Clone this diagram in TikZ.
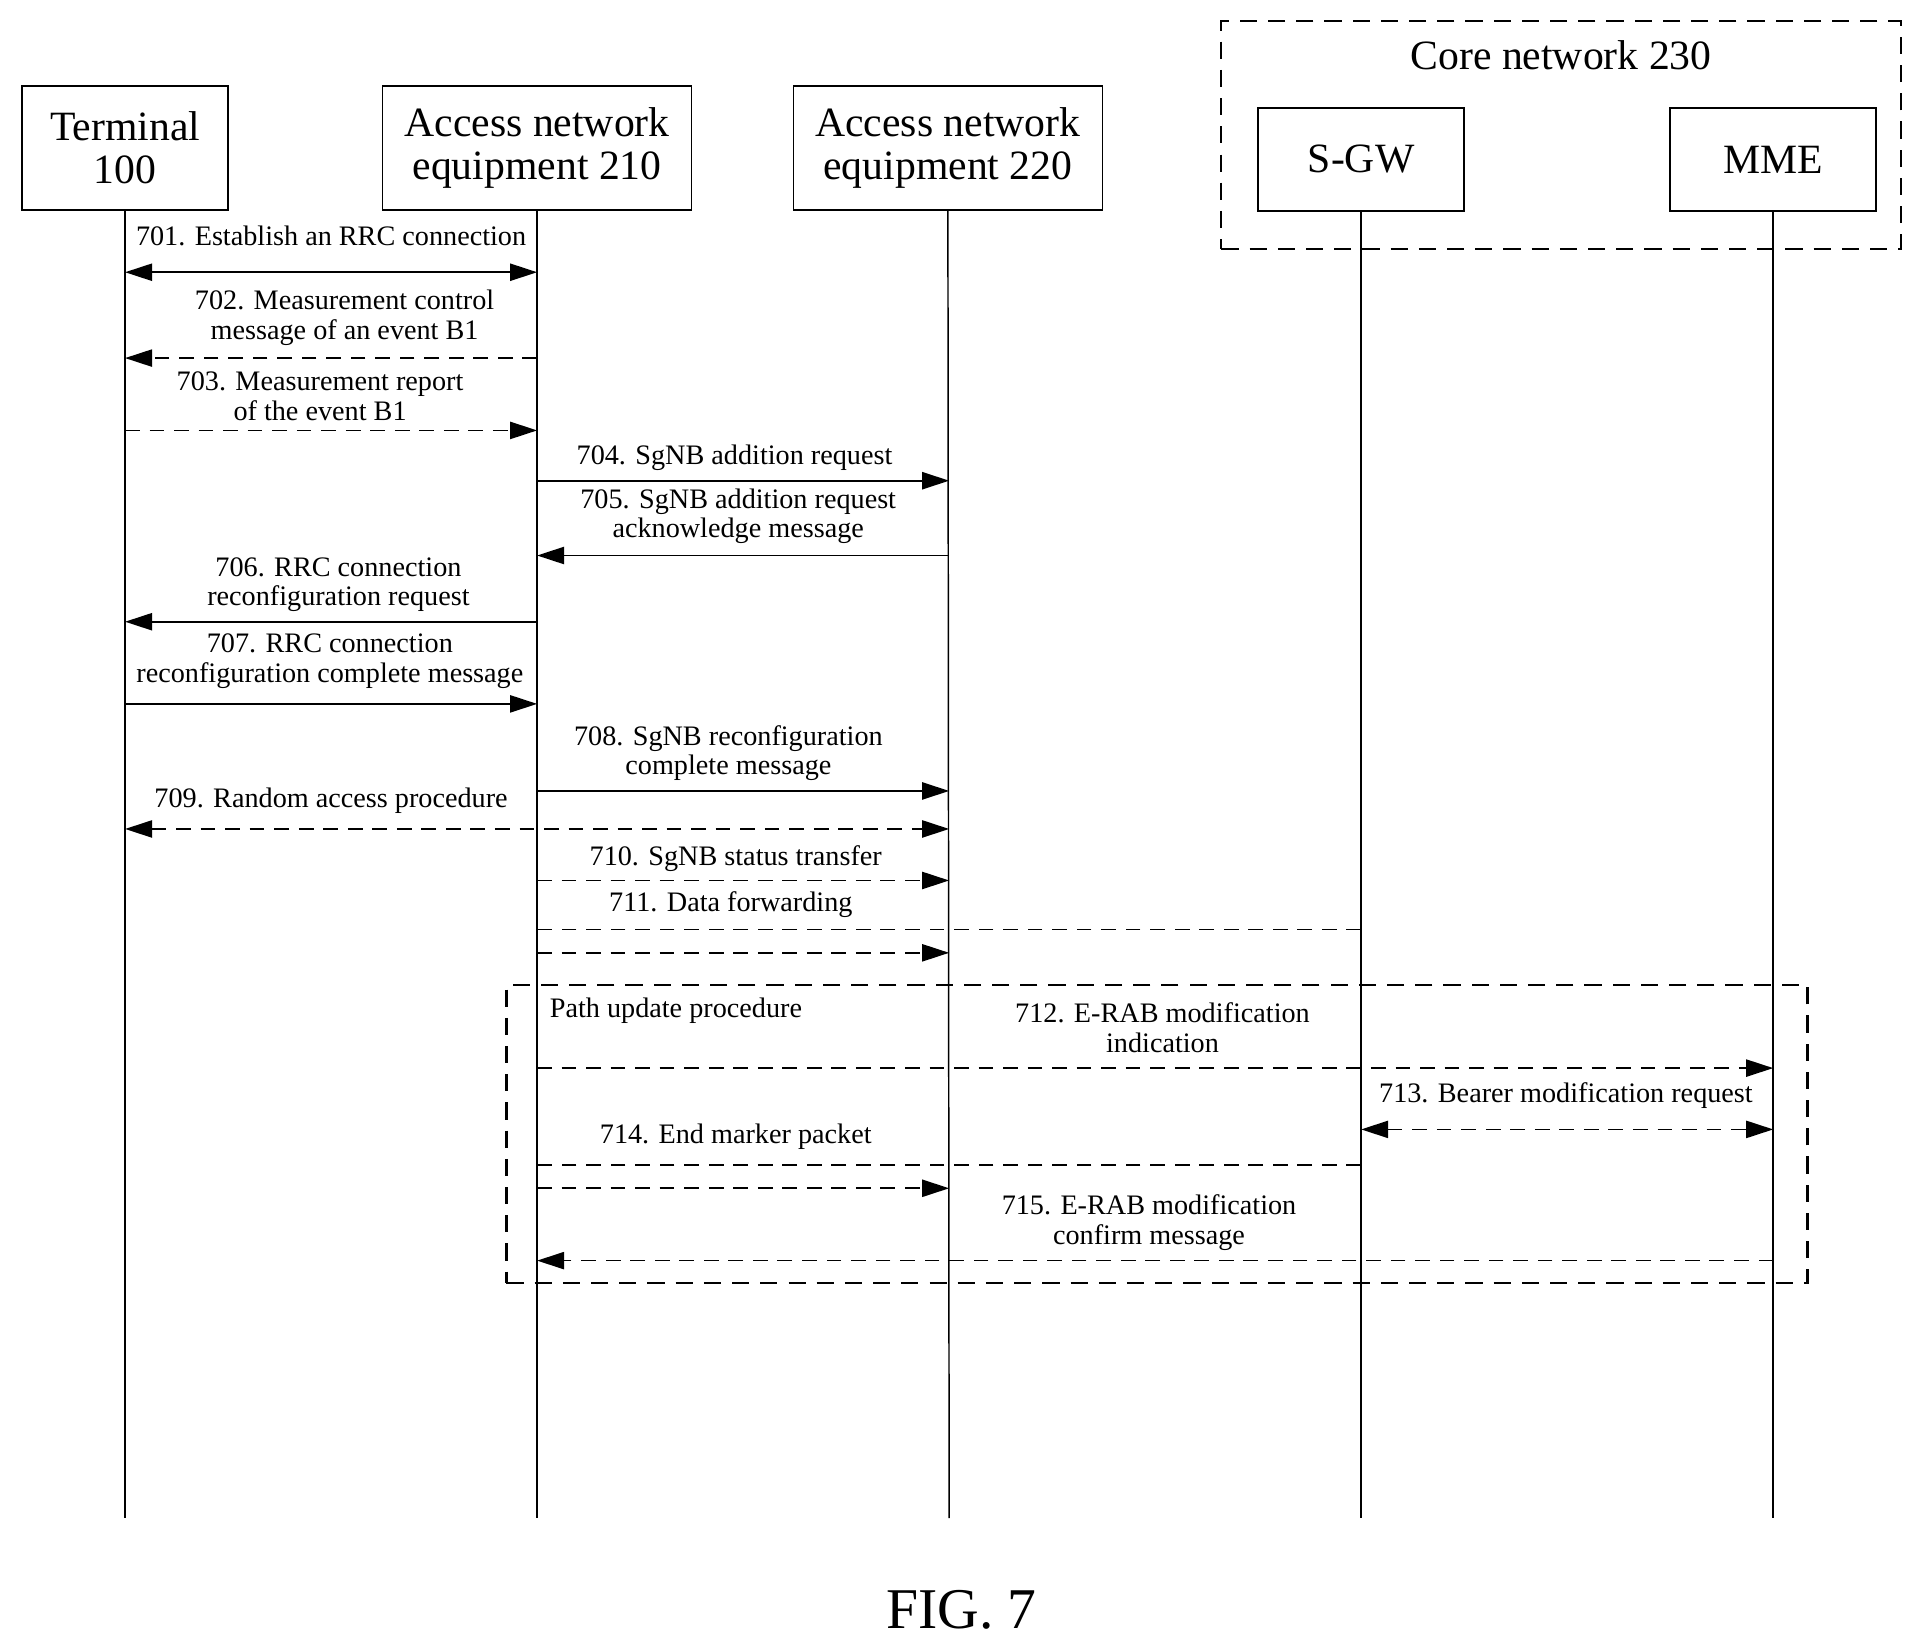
\documentclass[tikz,border=0pt]{standalone}
\usepackage{fontspec}
\setmainfont{Liberation Serif}
\usetikzlibrary{arrows.meta}
\begin{document}
\begin{tikzpicture}[x=0.5pt,y=-0.5pt,
  ent/.style={draw,line width=0.7pt,minimum width=84pt,minimum height=50.5pt,inner sep=0pt,align=center,font=\fontsize{17}{17.5}\selectfont},
  ll/.style={line width=0.6pt},
  msg/.style={line width=0.7pt,-{Triangle[length=11pt,width=7pt]}},
  both/.style={line width=0.7pt,{Triangle[length=11pt,width=7pt]}-{Triangle[length=11pt,width=7pt]}},
  dsh/.style={dash pattern=on 6pt off 4pt},
  lab/.style={font=\fontsize{11.5}{12}\selectfont,align=center,inner sep=0pt,anchor=center},
  box/.style={draw,line width=0.9pt,dash pattern=on 7pt off 4.5pt}]
\useasboundingbox (0,0) rectangle (1560,1339);
\node[box,minimum width=277pt,minimum height=93pt,inner sep=0pt] (core) at (1273,110) {};
\node[font=\fontsize{17}{17.5}\selectfont] (corel) at (1273,45) {Core network 230};
\node[ent] (t) at (102,120.5) {Terminal\\100};
\node[ent,minimum width=126pt] (a) at (438,120.5) {Access network\\equipment 210};
\node[ent,minimum width=126pt] (b) at (773,120.5) {Access network\\equipment 220};
\node[ent,minimum height=42pt] (s) at (1110,130) {S-GW};
\node[ent,minimum height=42pt] (m) at (1446,130) {MME};
\foreach \n/\x in {t/102,a/438,b/774,s/1110,m/1446}{
  \coordinate (\n e) at (\x,1238);
  \draw[ll] (\n.south) -- (\n e);}
\node[box,minimum width=530.5pt,minimum height=121.5pt,inner sep=0pt] (pu) at (943.5,924.5) {};
\node[lab,anchor=west] (pul) at (448,824) {Path update procedure};
% coordinates on lifelines
\foreach \y in {222,292,351,392,453,507,574,645,676,718,758,777,871,921,950,969,1028}{
  \coordinate (t\y) at (102,\y); \coordinate (a\y) at (438,\y);
  \coordinate (b\y) at (774,\y); \coordinate (s\y) at (1110,\y); \coordinate (m\y) at (1446,\y);}
\draw[both] (t222) -- (a222);
\node[lab] (l1) at (270,192) {701. Establish an RRC connection};
\draw[msg,dsh] (a292) -- (t292);
\node[lab] (l2) at (281,259) {702. Measurement control\\message of an event B1};
\draw[msg,dsh] (t351) -- (a351);
\node[lab] (l3) at (261,323) {703. Measurement report\\of the event B1};
\draw[msg] (a392) -- (b392);
\node[lab] (l4) at (599,373) {704. SgNB addition request};
\draw[msg] (b453) -- (a453);
\node[lab] (l5) at (602,421) {705. SgNB addition request\\acknowledge message};
\draw[msg] (a507) -- (t507);
\node[lab] (l6) at (276,477) {706. RRC connection\\reconfiguration request};
\draw[msg] (t574) -- (a574);
\node[lab] (l7) at (269,539) {707. RRC connection\\reconfiguration complete message};
\draw[msg] (a645) -- (b645);
\node[lab] (l8) at (594,614) {708. SgNB reconfiguration\\complete message};
\draw[both,dsh] (t676) -- (b676);
\node[lab] (l9) at (270,653) {709. Random access procedure};
\draw[msg,dsh] (a718) -- (b718);
\node[lab] (l10) at (600,700) {710. SgNB status transfer};
\draw[line width=0.7pt,dsh] (s758) -- (a758);
\draw[msg,dsh] (a777) -- (b777);
\node[lab] (l11) at (596,738) {711. Data forwarding};
\draw[msg,dsh] (a871) -- (m871);
\node[lab] (l12) at (948,838) {712. E-RAB modification\\indication};
\draw[both,dsh] (s921) -- (m921);
\node[lab] (l13) at (1277,893) {713. Bearer modification request};
\draw[line width=0.7pt,dsh] (s950) -- (a950);
\draw[msg,dsh] (a969) -- (b969);
\node[lab] (l14) at (600,927) {714. End marker packet};
\draw[msg,dsh] (m1028) -- (a1028);
\node[lab] (l15) at (937,997) {715. E-RAB modification\\confirm message};
\node[font=\fontsize{23.5}{24}\selectfont] (fig) at (784,1313) {FIG. 7};
\end{tikzpicture}
\end{document}
